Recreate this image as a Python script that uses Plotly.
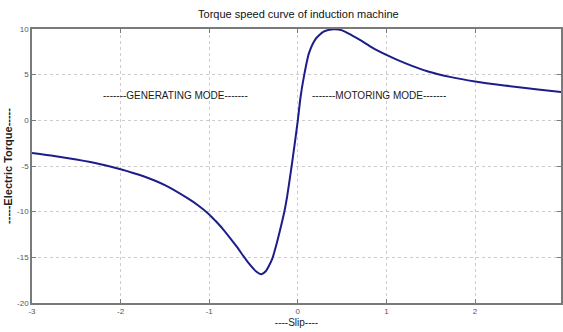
import plotly.graph_objects as go

# Slip vs electric torque of the induction machine
slip = [-3.0, -2.75, -2.5, -2.25, -2.0, -1.75, -1.5, -1.25, -1.12, -1.0,
        -0.93, -0.85, -0.7, -0.55, -0.47, -0.41, -0.36, -0.33, -0.29, -0.25,
        -0.19, -0.15, -0.12, -0.064, 0.0, 0.03, 0.067, 0.124, 0.2, 0.29,
        0.4, 0.5, 0.61, 0.72, 0.835, 1.0, 1.21, 1.47, 1.73, 2.0,
        2.33, 2.71, 3.0]
torque = [-3.57, -3.9, -4.3, -4.75, -5.35, -6.1, -7.1, -8.5, -9.35, -10.3,
          -11.0, -11.85, -13.7, -15.7, -16.55, -16.85, -16.5, -16.0, -15.2, -13.9,
          -11.6, -9.9, -8.3, -4.6, 0.0, 2.5, 4.7, 7.3, 8.9, 9.7,
          9.97, 9.85, 9.3, 8.7, 8.0, 7.17, 6.26, 5.35, 4.73, 4.26,
          3.82, 3.38, 3.06]

x_ticks = [-3, -2, -1, 0, 1, 2, 3]
x_tick_labels = ["-3", "-2", "-1", "0", "1", "2", "3"]
y_ticks = [-20, -15, -10, -5, 0, 5, 10]
y_tick_labels = ["-20", "-15", "-10", "-5", "0", "5", "10"]

mode_labels = ["-------GENERATING MODE-------", "-------MOTORING MODE-------"]
mode_x = [-1.38, 0.92]
mode_y = [2.75, 2.75]

FONT = "Liberation Sans, Arial, sans-serif"

fig = go.Figure()
fig.add_trace(go.Scatter(
    x=slip, y=torque, mode="lines",
    line=dict(color="#1c1c8a", width=2, shape="spline", smoothing=0.6),
    showlegend=False, hoverinfo="skip",
))

for text, xx, yy in zip(mode_labels, mode_x, mode_y):
    fig.add_annotation(x=xx, y=yy, text=text, showarrow=False,
                       font=dict(family=FONT, size=10, color="#1a1a1a"))

axis_common = dict(
    showline=True, linecolor="#7a7a7a", linewidth=1.5, mirror="ticks",
    ticks="inside", ticklen=4, tickcolor="#7a7a7a",
    showgrid=True, gridcolor="#cccccc", griddash="dot", gridwidth=1,
    zeroline=False,
    tickfont=dict(family=FONT, size=8, color="#555555"),
)

fig.update_layout(
    width=563, height=332,
    margin=dict(l=32, r=0, t=29, b=29),
    paper_bgcolor="white", plot_bgcolor="white",
    title=dict(text="Torque speed curve of induction machine",
               x=0.53, xanchor="center", y=0.958, yanchor="middle",
               font=dict(family=FONT, size=11, color="#111111")),
    xaxis=dict(range=[-3, 2.97], tickvals=x_ticks, ticktext=x_tick_labels,
               title=dict(text="----Slip----", standoff=4,
                          font=dict(family=FONT, size=10, color="#222222")),
               **axis_common),
    yaxis=dict(range=[-20, 10], tickvals=y_ticks, ticktext=y_tick_labels,
               title=dict(text="<b>-----Electric Torque-----</b>", standoff=2,
                          font=dict(family=FONT, size=11, color="#222222")),
               **axis_common),
)

fig.write_html("out.html")
